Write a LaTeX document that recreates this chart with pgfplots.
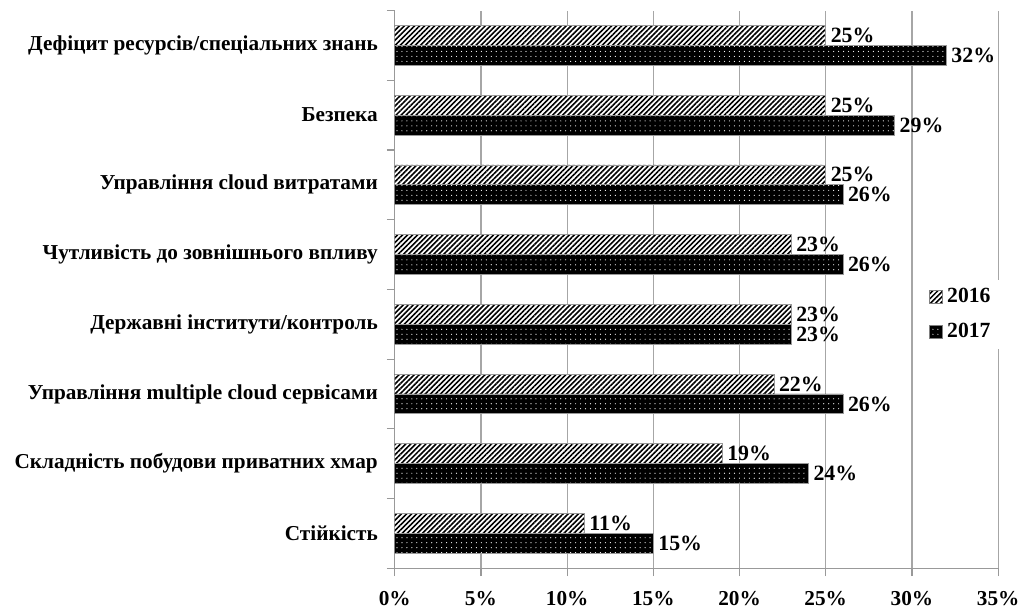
\documentclass[border=0pt]{standalone}
\usepackage{fontspec}
\setmainfont{Liberation Serif}
\usepackage{pgfplots}
\pgfplotsset{compat=1.18}
\usetikzlibrary{patterns.meta}
\begin{document}
\begin{tikzpicture}[font=\fontsize{10.7}{13}\selectfont\bfseries]
\begin{axis}[
  scale only axis,
  width=304pt, height=281pt,
  xbar, bar width=10pt,
  xmin=0, xmax=35, ymin=-0.5, ymax=7.5,
  axis lines*=left,
  axis line style={draw=gray!80, line width=0.6pt},
  /pgf/number format/assume math mode=true,
  xtick={0,5,...,35},
  xticklabels={0\%,5\%,10\%,15\%,20\%,25\%,30\%,35\%},
  xtick align=outside,
  x tick style={draw=gray!80, line width=0.6pt},
  major tick length=4pt,
  xmajorgrids, grid style={draw=gray!70, line width=0.6pt},
  xticklabel style={yshift=-4pt},
  ytick={0,...,7},
  yticklabels={Стійкість, Складність побудови приватних хмар, Управління multiple cloud сервісами, Державні інститути/контроль, Чутливість до зовнішнього впливу, Управління cloud витратами, Безпека, Дефіцит ресурсів/спеціальних знань},
  y tick style={draw=none},
  minor ytick={-0.5,0.5,...,7.5},
  minor y tick style={draw=gray!80, line width=0.6pt},
  minor tick length=4pt,
  ytick align=outside,
  yticklabel style={xshift=-1pt},
  nodes near coords={\pgfmathprintnumber{\pgfplotspointmeta}\%},
  every node near coord/.append style={font=\fontsize{11}{13}\selectfont\bfseries, anchor=west, xshift=-1pt},
  legend style={draw=none, fill=white, at={(0.94,0.455)}, anchor=center, row sep=5pt, font=\fontsize{10.9}{13}\selectfont\bfseries},
  legend cell align=left,
  legend image code/.code={\draw[#1, draw=gray] (0pt,-3.3pt) rectangle (6.6pt,3.3pt);},
]
\addplot[bar shift=5pt, draw=gray!80, fill=white, postaction={pattern={Lines[angle=45,distance=1.8pt,line width=0.8pt]}, pattern color=black}]
  coordinates {(11,0) (19,1) (22,2) (23,3) (23,4) (25,5) (25,6) (25,7)};
\addplot[bar shift=-5pt, draw=gray!80, fill=black, postaction={pattern={Dots[distance=2.5pt,radius=0.3pt]}, pattern color=white}]
  coordinates {(15,0) (24,1) (26,2) (23,3) (26,4) (26,5) (29,6) (32,7)};
\legend{2016,2017}
\end{axis}
\path ([shift={(-4pt,5pt)}]current bounding box.north west);
\end{tikzpicture}
\end{document}
